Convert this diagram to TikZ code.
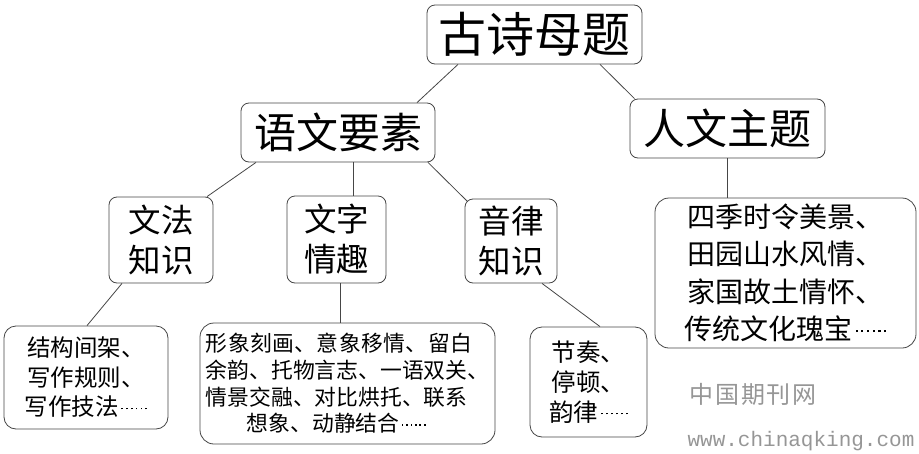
\documentclass[tikz,border=0pt]{standalone}
\usepackage{fontspec}
\setmainfont{Noto Sans CJK SC}
\newfontfamily\urlfont{Liberation Mono}
\usepackage{tikz}
\definecolor{linegray}{RGB}{70,70,70}
\definecolor{markgray}{RGB}{150,150,150}
% small mid-height dots for the ellipsis
\newcommand{\onedot}{\raisebox{0.28em}{\rule{0.075em}{0.075em}}}
\newcommand{\sixdots}{\kern0.1em\onedot\kern0.13em\onedot\kern0.13em\onedot\kern0.13em\onedot\kern0.13em\onedot\kern0.13em\onedot}

\begin{document}
\begin{tikzpicture}[x=1pt, y=1pt,
    box/.style={draw=linegray, line width=0.8pt, rounded corners=8pt, fill=white,
        inner sep=0pt, align=center, text=black},
    link/.style={draw=linegray, line width=0.8pt}]
    \useasboundingbox (0,0) rectangle (919,-453);

    % Top level
    \node[box, minimum width=215pt, minimum height=59pt, font=\fontsize{48}{52}\selectfont]
        (root) at (534.5,-34.5) {古诗母题};

    % Second level
    \node[box, minimum width=194pt, minimum height=59pt, font=\fontsize{42}{46}\selectfont]
        (yuwen) at (338,-132.5) {语文要素};
    \node[box, minimum width=195pt, minimum height=59pt, font=\fontsize{42}{46}\selectfont]
        (renwen) at (727.5,-128.5) {人文主题};

    % Third level
    \node[box, minimum width=104pt, minimum height=86pt, font=\fontsize{32.5}{40}\selectfont]
        (wenfa) at (161,-240) {文法\\知识};
    \node[box, minimum width=99pt, minimum height=87pt, font=\fontsize{32.5}{40}\selectfont]
        (wenzi) at (336.5,-239.5) {文字\\情趣};
    \node[box, minimum width=92pt, minimum height=84pt, font=\fontsize{32.5}{40}\selectfont]
        (yinlv) at (511,-241) {音律\\知识};
    \node[box, rounded corners=14pt, minimum width=261pt, minimum height=150pt,
        font=\fontsize{28}{37.5}\selectfont]
        (siji) at (785.5,-273) {四季时令美景、\\田园山水风情、\\家国故土情怀、\\传统文化瑰宝\sixdots};

    % Bottom level
    \node[box, rounded corners=12pt, minimum width=164pt, minimum height=103pt,
        font=\fontsize{23.5}{29.5}\selectfont]
        (jiegou) at (86,-377.5) {结构间架、\\写作规则、\\写作技法\sixdots};
    \node[box, rounded corners=14pt, minimum width=295pt, minimum height=121pt,
        font=\fontsize{21.8}{26.7}\selectfont, align=left]
        (xingxiang) at (347.5,-383.5) {{\addfontfeature{LetterSpace=2}形象刻画、意象移情、留白}\\余韵、托物言志、一语双关、\\情景交融、对比烘托、联系\\\hspace*{41pt}想象、动静结合\sixdots};
    \node[box, rounded corners=12pt, minimum width=117pt, minimum height=110pt,
        font=\fontsize{24.5}{30}\selectfont]
        (jiezou) at (588.5,-382) {节奏、\\停顿、\\韵律\sixdots};

    % Connectors
    \draw[link] ([xshift=-76.5pt]root.south) -- ([xshift=79pt]yuwen.north);
    \draw[link] ([xshift=65.5pt]root.south) -- ([xshift=-93pt]renwen.north);
    \draw[link] ([xshift=-82pt]yuwen.south) -- ([xshift=46pt]wenfa.north);
    \draw[link] ([xshift=15pt]yuwen.south) -- ([xshift=16.5pt]wenzi.north);
    \draw[link] ([xshift=90pt]yuwen.south) -- ([shift={(3pt,-3pt)}]yinlv.north west);
    \draw[link] (renwen.south) -- (renwen.south |- siji.north);
    \draw[link] ([xshift=-39pt]wenfa.south) -- ([xshift=1pt]jiegou.north);
    \draw[link] ([xshift=3.5pt]wenzi.south) -- ([xshift=3.5pt]wenzi.south |- xingxiang.north);
    \draw[link] ([xshift=31pt]yinlv.south) -- ([xshift=11.5pt]jiezou.north);

    % Watermark
    \node[text=markgray, font=\fontsize{24}{28}\selectfont\addfontfeature{LetterSpace=8}] (mark) at (753,-394) {中国期刊网};
    \node[text=markgray, font=\urlfont\fontsize{21}{24}\selectfont] (url) at (801,-441) {www.chinaqking.com};
\end{tikzpicture}
\end{document}
